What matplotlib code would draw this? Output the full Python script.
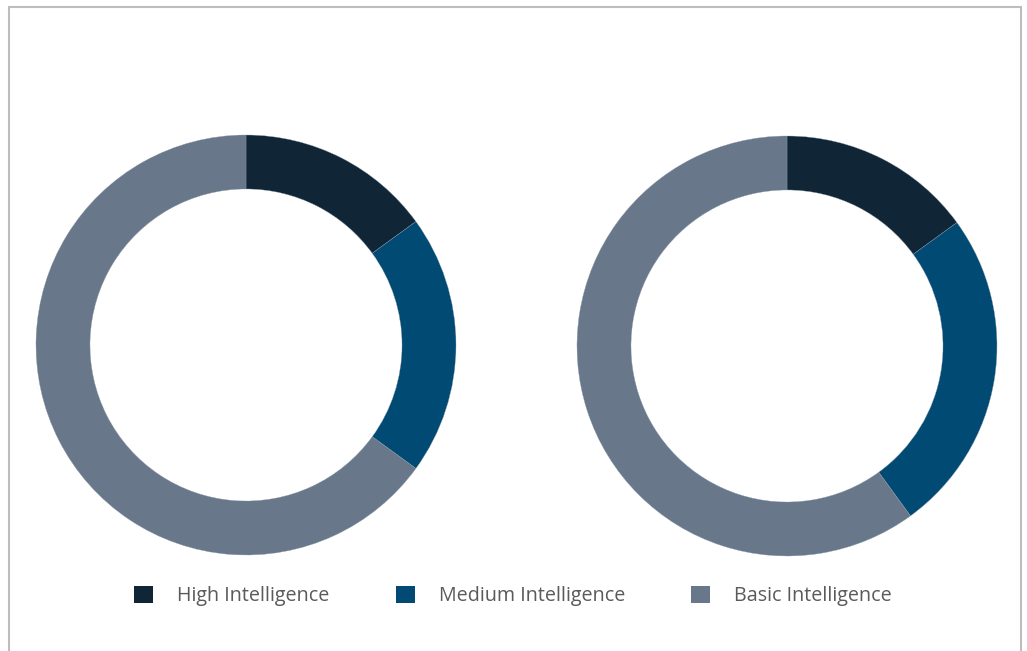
import matplotlib.pyplot as plt
from matplotlib.patches import Patch, Rectangle

# Données (%)
categories = ["High Intelligence", "Medium Intelligence", "Basic Intelligence"]
left_values = [15, 20, 65]
right_values = [15, 25, 60]
colors = ["#102636", "#014a73", "#687789"]

W, H = 1027, 651
fig = plt.figure(figsize=(W / 100, H / 100), dpi=100)
plt.rcParams['font.family'] = ['Open Sans', 'DejaVu Sans']

# cadre gris autour de la figure
fig.patches.append(Rectangle((8.5 / W, -0.05), 1012.5 / W, 1.05 - 7.5 / H,
                             transform=fig.transFigure, fill=False,
                             edgecolor="#bdbdbd", linewidth=1.5))


def donut(cx, cy, r, values):
    ax = fig.add_axes([(cx - r) / W, (H - cy - r) / H, 2 * r / W, 2 * r / H])
    ax.pie(values, colors=colors, startangle=90, counterclock=False,
           radius=1, wedgeprops=dict(width=0.257, edgecolor="#8a9aaa", linewidth=0.25))
    ax.set_xlim(-1, 1)
    ax.set_ylim(-1, 1)
    ax.set_aspect('equal')
    ax.axis('off')


donut(246, 345, 210, left_values)
donut(787, 346, 210, right_values)

handles = [Patch(facecolor=c, edgecolor='none') for c in colors]
fig.legend(handles, categories, loc='center', bbox_to_anchor=(513 / W, 1 - 596 / H),
           ncol=3, frameon=False, fontsize=14.2, labelcolor="#5a5a5a",
           handlelength=0.96, handleheight=0.96, handletextpad=1.22,
           columnspacing=3.35)

plt.savefig("out.png", dpi=100)
